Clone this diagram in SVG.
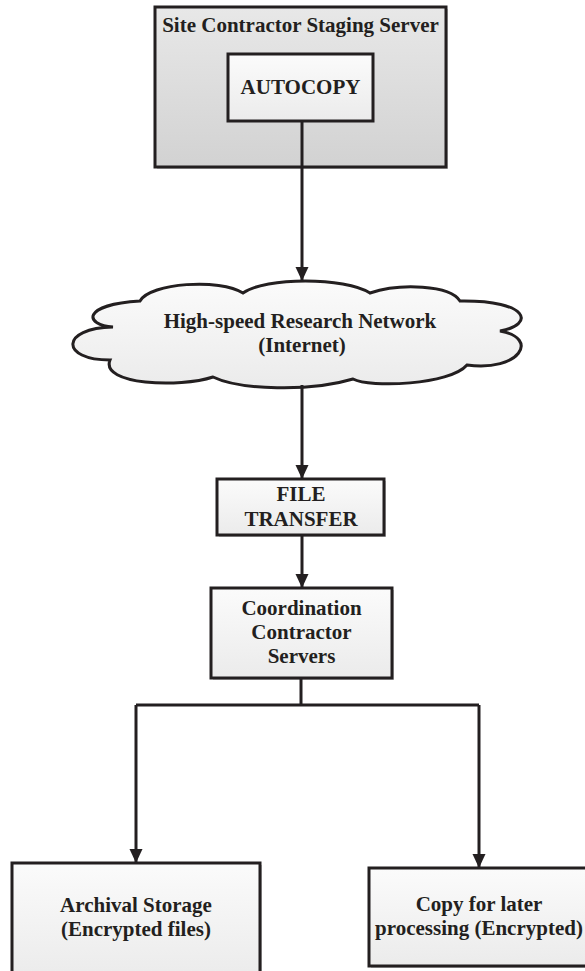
<svg xmlns="http://www.w3.org/2000/svg" width="585" height="971" viewBox="0 0 585 971">
<style>
  .box { stroke: #231f20; stroke-width: 3; }
  .shadow { fill: #c8c8c8; }
  .lbl { font-family: "Liberation Serif", "Times New Roman", serif; font-weight: bold; font-size: 21px; fill: #231f20; text-anchor: middle; }
  .conn { fill: none; stroke: #231f20; stroke-width: 3; }
</style>
<defs>
  <linearGradient id="gGray" x1="0" y1="0" x2="0" y2="1">
    <stop offset="0" stop-color="#e8e8e8"/>
    <stop offset="1" stop-color="#d2d2d2"/>
  </linearGradient>
  <linearGradient id="gLight" x1="0" y1="0" x2="0" y2="1">
    <stop offset="0" stop-color="#fbfbfb"/>
    <stop offset="1" stop-color="#ebebeb"/>
  </linearGradient>
  <marker id="arrow" markerUnits="userSpaceOnUse" markerWidth="14" markerHeight="14" viewBox="0 0 14 14" refX="14" refY="7" orient="auto">
    <path d="M0,0.5 L14,7 L0,13.5 Z" fill="#231f20"/>
  </marker>
</defs>

<g id="staging-server">
  <rect class="shadow" x="157" y="9" width="291" height="160"/>
  <rect class="box" x="155" y="7" width="291" height="160" fill="url(#gGray)"/>
  <text class="lbl" x="300.5" y="32">Site Contractor Staging Server</text>
</g>

<g id="autocopy">
  <rect class="box" x="228" y="54" width="145" height="67" fill="url(#gLight)"/>
  <text class="lbl" x="300.5" y="94">AUTOCOPY</text>
</g>

<g id="network">
  <path class="box" fill="url(#gLight)" d="M113,327 C85,325 80,305 140,301 C150,283 220,278 243,293 C265,277 345,277 370,293 C400,283 450,285 460,301 C530,300 535,325 500,331 C540,338 520,372 467,365 C450,385 370,388 353,379 C310,392 240,390 213,377 C180,388 100,385 110,360 C60,360 60,328 113,327 Z"/>
  <text class="lbl" x="300" y="328">High-speed Research Network</text>
  <text class="lbl" x="302" y="352">(Internet)</text>
</g>

<g id="file-transfer">
  <rect class="shadow" x="219" y="481" width="167" height="56"/>
  <rect class="box" x="217" y="479" width="167" height="56" fill="url(#gLight)"/>
  <text class="lbl" x="301" y="501">FILE</text>
  <text class="lbl" x="301" y="526">TRANSFER</text>
</g>

<g id="coordination">
  <rect class="shadow" x="213" y="590" width="181" height="90"/>
  <rect class="box" x="211" y="588" width="181" height="90" fill="url(#gLight)"/>
  <text class="lbl" x="301.5" y="615">Coordination</text>
  <text class="lbl" x="301.5" y="639">Contractor</text>
  <text class="lbl" x="301.5" y="663">Servers</text>
</g>

<g id="archival">
  <rect class="shadow" x="14" y="865" width="248" height="115"/>
  <rect class="box" x="12" y="863" width="248" height="115" fill="url(#gLight)"/>
  <text class="lbl" x="136" y="912">Archival Storage</text>
  <text class="lbl" x="136" y="936">(Encrypted files)</text>
</g>

<g id="copy-later">
  <rect class="shadow" x="371" y="870" width="221" height="98"/>
  <rect class="box" x="369" y="868" width="221" height="98" fill="url(#gLight)"/>
  <text class="lbl" x="479" y="911">Copy for later</text>
  <text class="lbl" x="479" y="935">processing (Encrypted)</text>
</g>

<g id="connectors">
  <path class="conn" d="M302,121 L302,281" marker-end="url(#arrow)"/>
  <path class="conn" d="M302,385 L302,479" marker-end="url(#arrow)"/>
  <path class="conn" d="M302,535 L302,588" marker-end="url(#arrow)"/>
  <path class="conn" d="M301,678 L301,705"/>
  <path class="conn" d="M136,705 L479,705"/>
  <path class="conn" d="M136,705 L136,863" marker-end="url(#arrow)"/>
  <path class="conn" d="M479,705 L479,868" marker-end="url(#arrow)"/>
</g>
</svg>
